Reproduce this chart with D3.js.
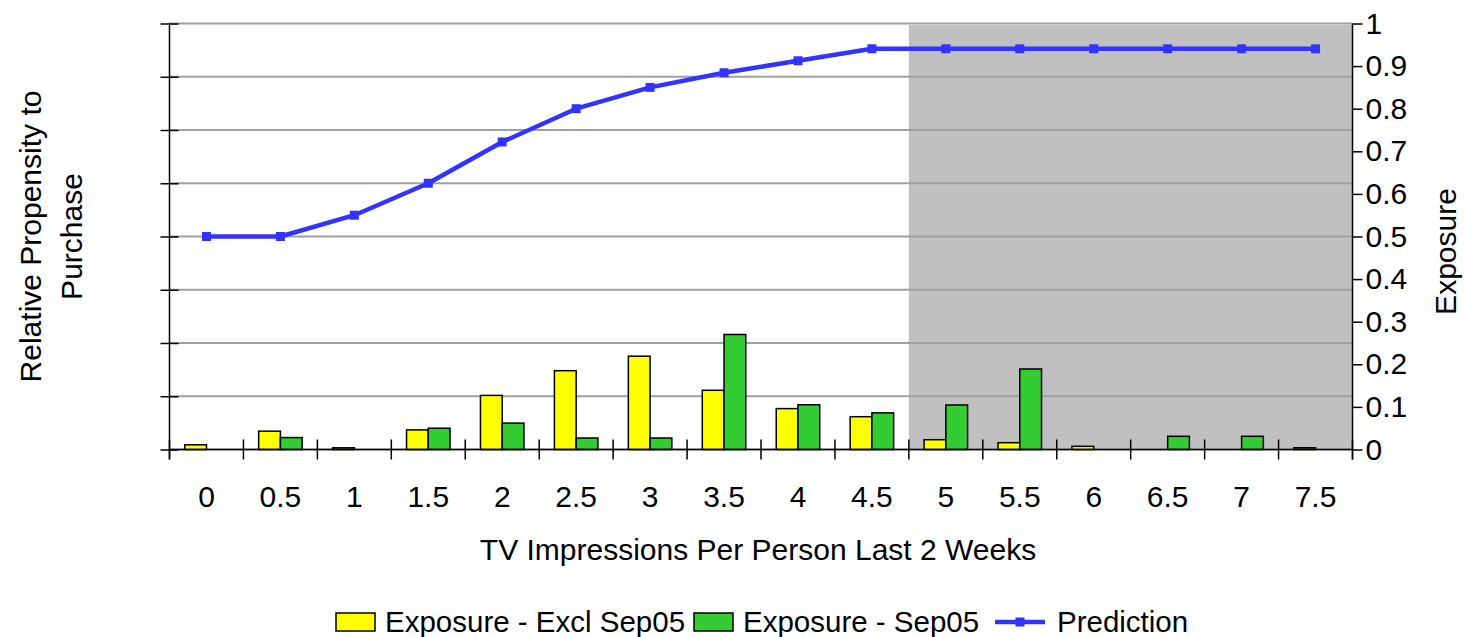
<!DOCTYPE html>
<html>
<head>
<meta charset="utf-8">
<script src="https://cdn.jsdelivr.net/npm/d3@7"></script>
<style>
  html, body { margin: 0; padding: 0; background: #fff; }
  svg { display: block; font-family: "Liberation Sans", Arial, sans-serif; }
</style>
</head>
<body>
<svg id="chart" width="1473" height="637"></svg>
<script>
// TV impressions per person (last 2 weeks)
const categories = ["0","0.5","1","1.5","2","2.5","3","3.5","4","4.5","5","5.5","6","6.5","7","7.5"];
// Exposure share, excluding Sep05
const exposureExcl = [0.011,0.043,0.004,0.046,0.127,0.185,0.219,0.139,0.096,0.077,0.023,0.016,0.0075,0,0,0.004];
// Exposure share, Sep05
const exposureSep = [0,0.028,0,0.050,0.062,0.027,0.027,0.270,0.105,0.086,0.1045,0.189,0,0.031,0.031,0];
// Relative propensity to purchase (model prediction)
const prediction = [0.80,0.80,0.88,1.00,1.155,1.28,1.36,1.415,1.46,1.505,1.505,1.505,1.505,1.505,1.505,1.505];
// Categories from this point on are shaded
const shadeFrom = "5";
const rightTicks = [0,0.1,0.2,0.3,0.4,0.5,0.6,0.7,0.8,0.9,1];
const leftTicks = [0,0.2,0.4,0.6,0.8,1.0,1.2,1.4,1.6];
const seriesNames = ["Exposure - Excl Sep05","Exposure - Sep05","Prediction"];
const colors = {excl: "#FFFF00", sep: "#33CC33", pred: "#3333FF", shade: "#C0C0C0", grid: "#A0A0A0"};

const svg = d3.select("#chart");
const m = {left: 169.5, right: 1352.5, top: 23.5, bottom: 449.5};
const fs = 30;

const x = d3.scaleBand().domain(categories).range([m.left, m.right]).paddingInner(0).paddingOuter(0);
const xs = d3.scaleBand().domain(["excl","sep"]).range([0, x.bandwidth()]).paddingInner(0).paddingOuter(0.7);
const yR = d3.scaleLinear().domain([0, 1]).range([m.bottom, m.top]);
const yL = d3.scaleLinear().domain([0, 1.6]).range([m.bottom, m.top]);

// shaded region
svg.append("rect")
  .attr("x", x(shadeFrom))
  .attr("y", m.top + 1.5)
  .attr("width", m.right - x(shadeFrom))
  .attr("height", m.bottom - m.top - 1.5)
  .attr("fill", colors.shade);

// horizontal gridlines from the left axis
svg.append("g").selectAll("line").data(leftTicks).join("line")
  .attr("x1", m.left).attr("x2", m.right)
  .attr("y1", d => yL(d)).attr("y2", d => yL(d))
  .attr("stroke", colors.grid).attr("stroke-width", 2);

// left axis: ticks only, no labels
const leftAxis = d3.axisLeft(yL).tickValues(leftTicks).tickFormat("").tickSizeInner(9).tickSizeOuter(0);
const gl = svg.append("g").attr("transform", `translate(${m.left},0)`).call(leftAxis);
gl.select(".domain").remove();
gl.selectAll(".tick line").attr("x2", 9).attr("x1", -9).attr("stroke", "#000").attr("stroke-width", 1.5);
svg.append("line").attr("x1", m.left).attr("x2", m.left).attr("y1", m.top).attr("y2", m.bottom + 10)
  .attr("stroke", "#000").attr("stroke-width", 1.5);

// right axis
const rightAxis = d3.axisRight(yR).tickValues(rightTicks).tickFormat(d3.format("~g")).tickSizeInner(10).tickSizeOuter(0).tickPadding(3);
const gr = svg.append("g").attr("transform", `translate(${m.right},0)`).call(rightAxis);
gr.select(".domain").remove();
gr.selectAll(".tick line").attr("stroke", "#000").attr("stroke-width", 1.5);
gr.selectAll(".tick text").attr("font-size", fs).attr("font-family", "Liberation Sans, Arial, sans-serif").attr("fill", "#000");
svg.append("line").attr("x1", m.right).attr("x2", m.right).attr("y1", m.top).attr("y2", m.bottom + 10)
  .attr("stroke", "#000").attr("stroke-width", 1.5);

// bars
const bars = svg.append("g");
const barSeries = [{key: "excl", values: exposureExcl}, {key: "sep", values: exposureSep}];
barSeries.forEach(s => {
  bars.append("g").selectAll("rect").data(s.values.map((v, i) => ({cat: categories[i], v})).filter(d => d.v > 0)).join("rect")
    .attr("x", d => x(d.cat) + xs(s.key))
    .attr("y", d => yR(d.v))
    .attr("width", xs.bandwidth())
    .attr("height", d => yR(0) - yR(d.v))
    .attr("fill", colors[s.key])
    .attr("stroke", "#000").attr("stroke-width", 1.5);
});

// bottom axis
svg.append("line").attr("x1", m.left).attr("x2", m.right).attr("y1", m.bottom).attr("y2", m.bottom)
  .attr("stroke", "#000").attr("stroke-width", 1.5);
const boundaries = categories.map(c => x(c)).concat([m.right]);
svg.append("g").selectAll("line").data(boundaries).join("line")
  .attr("x1", d => d).attr("x2", d => d)
  .attr("y1", m.bottom - 10).attr("y2", m.bottom + 10)
  .attr("stroke", "#000").attr("stroke-width", 1.5);
svg.append("g").selectAll("text").data(categories).join("text")
  .attr("x", d => x(d) + x.bandwidth() / 2)
  .attr("y", 507)
  .attr("text-anchor", "middle")
  .attr("font-size", fs)
  .text(d => d);

// prediction line
const line = d3.line().x((d, i) => x(categories[i]) + x.bandwidth() / 2).y(d => yL(d));
svg.append("path").datum(prediction).attr("d", line)
  .attr("fill", "none").attr("stroke", colors.pred).attr("stroke-width", 4.5).attr("stroke-linejoin", "round");
svg.append("g").selectAll("rect").data(prediction).join("rect")
  .attr("x", (d, i) => x(categories[i]) + x.bandwidth() / 2 - 4.5)
  .attr("y", d => yL(d) - 4.5)
  .attr("width", 9).attr("height", 9)
  .attr("fill", colors.pred);

// axis titles
svg.append("text").attr("x", (m.left + m.right) / 2 - 3).attr("y", 560).attr("text-anchor", "middle")
  .attr("font-size", fs).text("TV Impressions Per Person Last 2 Weeks");
const lt = svg.append("text").attr("transform", `translate(41,${(m.top + m.bottom) / 2}) rotate(-90)`)
  .attr("text-anchor", "middle").attr("font-size", fs);
lt.append("tspan").attr("x", 0).attr("dy", 0).text("Relative Propensity to");
lt.append("tspan").attr("x", 0).attr("dy", 41).text("Purchase");
svg.append("text").attr("transform", `translate(1456,${(m.top + m.bottom) / 2 + 15}) rotate(-90)`)
  .attr("text-anchor", "middle").attr("font-size", fs).text("Exposure");

// legend
const lfs = 29.5;
const lg = svg.append("g").attr("transform", "translate(0,620)");
const items = [
  {name: seriesNames[0], type: "bar", color: colors.excl, x: 336},
  {name: seriesNames[1], type: "bar", color: colors.sep, x: 694},
  {name: seriesNames[2], type: "line", color: colors.pred, x: 995}
];
items.forEach(it => {
  if (it.type === "bar") {
    lg.append("rect").attr("x", it.x).attr("y", -7).attr("width", 39).attr("height", 18)
      .attr("fill", it.color).attr("stroke", "#000").attr("stroke-width", 1.5);
  } else {
    lg.append("line").attr("x1", it.x).attr("x2", it.x + 50).attr("y1", 2).attr("y2", 2)
      .attr("stroke", it.color).attr("stroke-width", 4.5);
    lg.append("rect").attr("x", it.x + 20.5).attr("y", -2.5).attr("width", 9).attr("height", 9).attr("fill", it.color);
  }
  lg.append("text").attr("x", it.x + (it.type === "bar" ? 49 : 62)).attr("y", 12)
    .attr("font-size", lfs).text(it.name);
});
</script>
</body>
</html>
